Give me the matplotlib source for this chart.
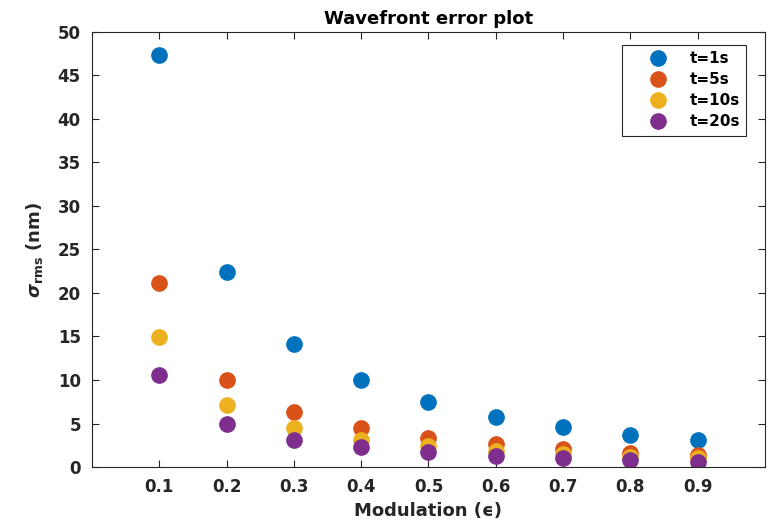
import matplotlib
matplotlib.use("Agg")
import matplotlib.pyplot as plt

plt.rcParams['font.family'] = ['DejaVu Sans']
plt.rcParams['font.weight'] = 'bold'
plt.rcParams['mathtext.fontset'] = 'custom'
plt.rcParams['mathtext.rm'] = 'DejaVu Sans:bold'
plt.rcParams['mathtext.bf'] = 'DejaVu Sans:bold'
plt.rcParams['mathtext.it'] = 'DejaVu Sans:italic'

modulation = [0.1, 0.2, 0.3, 0.4, 0.5, 0.6, 0.7, 0.8, 0.9]
series_labels = ['t=1s', 't=5s', 't=10s', 't=20s']
rms_t1 = [47.3, 22.4, 14.1, 10.0, 7.5, 5.8, 4.6, 3.7, 3.1]
rms_t5 = [21.1, 10.0, 6.3, 4.5, 3.3, 2.6, 2.05, 1.65, 1.4]
rms_t10 = [14.9, 7.1, 4.5, 3.15, 2.4, 1.85, 1.45, 1.2, 1.0]
rms_t20 = [10.6, 5.0, 3.15, 2.25, 1.7, 1.3, 1.0, 0.8, 0.6]
colors = ['#0072BD', '#D95319', '#EDB120', '#7E2F8E']

fig = plt.figure(figsize=(7.69, 5.23), dpi=100)
ax = fig.add_axes([0.1196, 0.107, 0.8752, 0.832])

for vals, lab, c in zip([rms_t1, rms_t5, rms_t10, rms_t20], series_labels, colors):
    ax.plot(modulation, vals, linestyle='none', marker='o', markersize=11,
            color=c, markeredgecolor=c, label=lab)

ax.set_xlim(0, 1)
ax.set_ylim(0, 50)
ax.set_xticks(modulation)
ax.set_xticklabels([f'{m:.1f}' for m in modulation])
ax.set_yticks(range(0, 51, 5))

for s in ax.spines.values():
    s.set_color('#262626')
    s.set_linewidth(0.8)
ax.tick_params(direction='in', length=5, width=0.8, colors='#262626',
               top=True, right=True, labelsize=12, pad=8)
for t in ax.get_xticklabels() + ax.get_yticklabels():
    t.set_fontweight('bold')
    t.set_color('#262626')

ax.set_title('Wavefront error plot', fontsize=13, fontweight='bold', pad=6)
ax.set_xlabel('Modulation (\u03f5)', fontsize=13, fontweight='bold',
              color='#262626', labelpad=4)
ax.set_ylabel(r'$\sigma_{\mathbf{rms}}$ (nm)', fontsize=13, fontweight='bold',
              color='#262626', labelpad=9)

leg = ax.legend(loc='upper right', bbox_to_anchor=(0.972, 0.970), borderaxespad=0,
                fancybox=False, edgecolor='#262626', framealpha=1, fontsize=11,
                handletextpad=0.1, borderpad=0.4, labelspacing=0.4,
                handlelength=3.9)
leg.get_frame().set_linewidth(0.8)
for t in leg.get_texts():
    t.set_fontweight('bold')

fig.savefig('out.png', dpi=100)
